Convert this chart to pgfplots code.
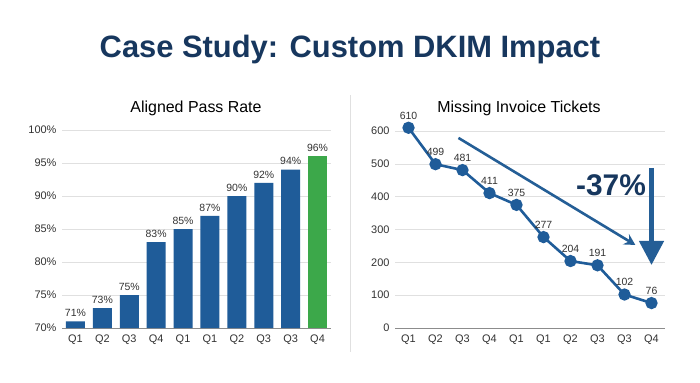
\documentclass[border=0pt]{standalone}
\usepackage{fontspec}
\setmainfont{Liberation Sans}
\usepackage{pgfplots}
\pgfplotsset{compat=1.18}
\usetikzlibrary{arrows.meta}

\definecolor{navy}{HTML}{17375E}
\definecolor{barblue}{HTML}{1F5C99}
\definecolor{bargreen}{HTML}{3CA84A}
\definecolor{arrowblue}{HTML}{245E96}
\definecolor{ticktext}{HTML}{333333}

\pgfplotsset{
  panel/.style={
    scale only axis,
    /pgf/number format/assume math mode=true,
    xmin=-0.5, xmax=9.5,
    xtick={0,...,9},
    xticklabels={Q1,Q2,Q3,Q4,Q1,Q1,Q2,Q3,Q3,Q4},
    axis x line*=bottom,
    axis y line*=left,
    x axis line style={draw=black!45, line width=0.8bp, -},
    y axis line style={draw=none},
    major tick length=0pt,
    ymajorgrids,
    grid style={draw=black!12, line width=0.6bp},
    tick label style={font=\fontsize{11}{13}\selectfont, text=ticktext},
    xticklabel style={yshift=-3bp},
    yticklabel style={xshift=-2bp},
    clip=false,
  }
}

\begin{document}
\begin{tikzpicture}[x=1bp,y=1bp]
\fill[white] (0,0) rectangle (700,382);

% main heading
\node[font=\bfseries\fontsize{31}{35}\selectfont, text=navy] at (350,332) {Case Study: Custom DKIM Impact};

% divider between panels
\draw[black!12, line width=1bp] (350,287) -- (350,30);

% panel titles
\node[font=\fontsize{16}{19}\selectfont] at (196,274) {Aligned Pass Rate};
\node[font=\fontsize{16}{19}\selectfont] at (519,274) {Missing Invoice Tickets};

% left panel: aligned pass rate
\begin{axis}[panel,
  at={(62bp,54bp)}, anchor=south west,
  width=269bp, height=198bp,
  ymin=70, ymax=100,
  ytick={70,75,80,85,90,95,100},
  yticklabels={70\%,75\%,80\%,85\%,90\%,95\%,100\%},
  ybar, bar width=19bp, bar shift=0pt,
  nodes near coords={\pgfmathprintnumber{\pgfplotspointmeta}\%},
  nodes near coords style={font=\fontsize{10.5}{12}\selectfont, text=ticktext, yshift=1bp},
]
\addplot[fill=barblue, draw=none] coordinates {
  (0,71) (1,73) (2,75) (3,83) (4,85) (5,87) (6,90) (7,92) (8,94)
};
\addplot[fill=bargreen, draw=none] coordinates {(9,96)};
\end{axis}

% right panel: missing invoice tickets
\begin{axis}[panel,
  at={(395bp,54bp)}, anchor=south west,
  width=270bp, height=210.1bp,
  ymin=0, ymax=640,
  ytick={0,100,...,600},
  nodes near coords,
  nodes near coords style={font=\fontsize{10.5}{12}\selectfont, text=ticktext, yshift=4bp},
]
\addplot[color=barblue, line width=2.6bp, mark=*, mark size=4.8bp,
  mark options={fill=barblue, draw=none, solid}] coordinates {
  (0,610) (1,499) (2,481) (3,411) (4,375) (5,277) (6,204) (7,191) (8,102) (9,76)
};
% trend annotation
\draw[arrowblue, line width=2.6bp, -{Stealth[length=11bp, width=12bp, inset=4bp]}]
  (axis cs:1.85,579) -- (axis cs:8.4,253);
\node[font=\bfseries\fontsize{30}{34}\selectfont, text=navy] at (axis cs:7.5,436) {-37\%};
\draw[arrowblue, line width=4.5bp, -{Triangle[length=24bp, width=24bp]}]
  (axis cs:9,488) -- (axis cs:9,192);
\end{axis}
\end{tikzpicture}
\end{document}
